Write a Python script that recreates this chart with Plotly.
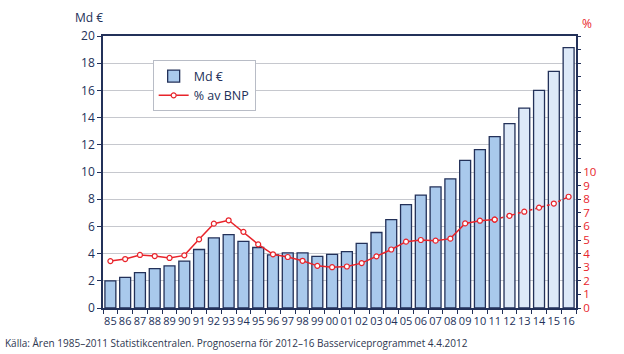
import plotly.graph_objects as go

years = ["85","86","87","88","89","90","91","92","93","94","95","96","97","98","99",
         "00","01","02","03","04","05","06","07","08","09","10","11","12","13","14","15","16"]
md_eur = [2.0, 2.25, 2.6, 2.9, 3.1, 3.45, 4.3, 5.15, 5.4, 4.9, 4.45, 3.9, 4.05, 4.05, 3.8,
          3.95, 4.15, 4.75, 5.55, 6.5, 7.6, 8.3, 8.9, 9.5, 10.85, 11.65, 12.6, 13.55, 14.7, 16.0, 17.4, 19.15]
pct_bnp = [3.45, 3.6, 3.9, 3.82, 3.68, 3.87, 5.05, 6.2, 6.45, 5.6, 4.68, 3.95, 3.75, 3.47, 3.1,
           3.0, 3.05, 3.3, 3.8, 4.3, 4.88, 5.0, 4.95, 5.1, 6.22, 6.42, 6.5, 6.78, 7.08, 7.38, 7.68, 8.18]
n_actual = 27  # 1985-2011 actual, 2012-16 forecast

navy = "#233159"
red = "#e8242b"
bar_colors = ["#a9c9ec"] * n_actual + ["#dde9f8"] * (len(years) - n_actual)
font_fam = "Open Sans"

fig = go.Figure()
fig.add_trace(go.Bar(
    x=years, y=md_eur, name="Md €",
    marker=dict(color=bar_colors, line=dict(color=navy, width=1.3)),
))
fig.add_trace(go.Scatter(
    x=years[:n_actual], y=pct_bnp[:n_actual], name="% av BNP", yaxis="y2",
    mode="lines+markers",
    line=dict(color=red, width=1.5),
    marker=dict(symbol="circle", size=5, color="white", line=dict(color=red, width=1.2)),
))
fig.add_trace(go.Scatter(
    x=years[n_actual - 1:], y=pct_bnp[n_actual - 1:], name="% av BNP (prognos)", yaxis="y2",
    mode="lines+markers", showlegend=False,
    line=dict(color=red, width=1.5, dash="3px,3px"),
    marker=dict(symbol="circle", size=5, color="white", line=dict(color=red, width=1.2)),
))
# invisible trace to activate third axis (unlabelled upper ticks on right side)
fig.add_trace(go.Scatter(x=[years[0]], y=[0], yaxis="y3", mode="markers",
                         marker=dict(opacity=0, size=1), showlegend=False, hoverinfo="skip"))

fig.update_layout(
    width=624, height=354,
    margin=dict(l=103, r=48, t=36, b=46),
    paper_bgcolor="white", plot_bgcolor="white",
    font=dict(family=font_fam, size=12, color=navy),
    bargap=0.26,
    showlegend=True,
    legend=dict(
        x=0.105, y=0.91, xanchor="left", yanchor="top",
        bgcolor="white", bordercolor="#b8bcc6", borderwidth=1,
        font=dict(family=font_fam, size=12.5, color=navy),
        itemwidth=30, tracegroupgap=4,
    ),
    xaxis=dict(
        type="category", range=[-0.5, len(years) - 0.5], autorange=False,
        showgrid=False, ticks="outside", tickson="boundaries", ticklen=4,
        tickcolor=navy, dtick=1, tickangle=0,
        showline=True, linecolor=navy, linewidth=1.5,
        mirror=True, tickfont=dict(size=11, color=navy), ticklabelstandoff=2,
    ),
    yaxis=dict(
        range=[0, 20], tickvals=list(range(0, 21, 2)), showgrid=True, gridcolor="#c6c8ce", gridwidth=1,
        showline=True, linecolor=navy, linewidth=1.5, mirror=True,
        ticks="outside", ticklen=4, tickcolor=navy, tickfont=dict(size=12, color=navy),
        zeroline=False,
    ),
    yaxis2=dict(
        range=[0, 20], overlaying="y", side="right",
        tickvals=list(range(0, 11)),
        ticktext=[str(i) for i in range(0, 11)],
        showgrid=False, zeroline=False, showline=False,
        ticks="outside", ticklen=4, tickcolor=navy, tickfont=dict(size=11.5, color=red),
    ),
    yaxis3=dict(
        range=[0, 20], overlaying="y", side="right", anchor="x",
        tickvals=list(range(11, 21)), showticklabels=False,
        showgrid=False, zeroline=False, showline=False,
        ticks="outside", ticklen=4, tickcolor=navy,
    ),
    annotations=[
        dict(text="Md €", x=0, y=1.0, xref="paper", yref="paper", xanchor="right", yanchor="bottom",
             xshift=2, yshift=8, showarrow=False, font=dict(size=12, color=navy)),
        dict(text="%", x=1, y=1.0, xref="paper", yref="paper", xanchor="left", yanchor="bottom",
             xshift=4, yshift=2, showarrow=False, font=dict(size=12, color=red)),
        dict(text="Källa: Åren 1985–2011 Statistikcentralen. Prognoserna för 2012–16 Basserviceprogrammet 4.4.2012",
             x=0, y=0, xref="paper", yref="paper", xanchor="left", yanchor="middle",
             xshift=-100, yshift=-35, showarrow=False, font=dict(size=10, color="#2e3650")),
    ],
)

fig.write_html("out.html")
